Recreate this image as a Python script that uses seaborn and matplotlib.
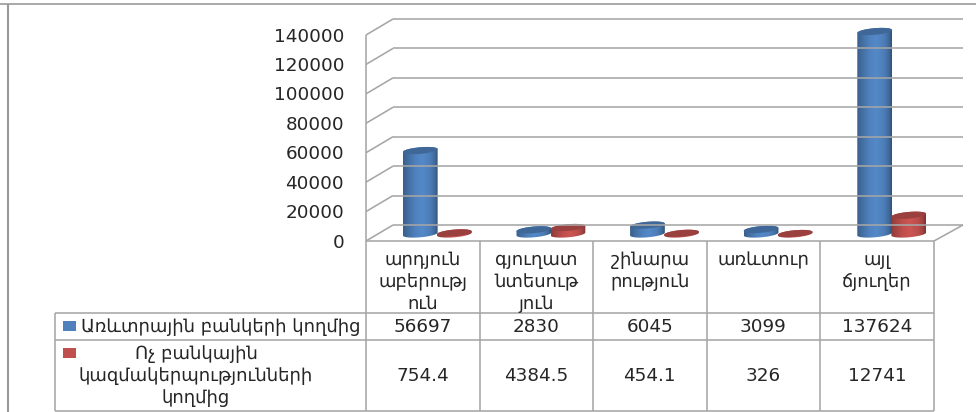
import numpy as np
import pandas as pd
import seaborn as sns
import matplotlib
matplotlib.use("Agg")
import matplotlib.pyplot as plt
from matplotlib.lines import Line2D
from matplotlib.patches import Polygon, Rectangle
from matplotlib.path import Path
from matplotlib.transforms import Affine2D, IdentityTransform

# ---- data ----
categories = ["արդյուն\nաբերությ\nուն", "գյուղատ\nնտեսութ\nյուն", "շինարա\nրություն", "առևտուր", "այլ\nճյուղեր"]
series_names = ["Առևտրային բանկերի կողմից", "Ոչ բանկային\nկազմակերպությունների\nկողմից"]
bank_values = [56697, 2830, 6045, 3099, 137624]
nonbank_values = [754.4, 4384.5, 454.1, 326, 12741]
value_labels = [["56697", "2830", "6045", "3099", "137624"], ["754.4", "4384.5", "454.1", "326", "12741"]]
y_ticks = [0, 20000, 40000, 60000, 80000, 100000, 120000, 140000]
colors = ["#4F81BD", "#C0504D"]

W, H = 976, 412
GRID = "#a6a6a6"
TXT = "#262626"
FS = 13.2
FS_ARM = 13.0

sns.set_theme(style="white", rc={"font.family": ["DejaVu Sans"]})
fig = plt.figure(figsize=(W / 100, H / 100), dpi=100, facecolor="white")
px = Affine2D().scale(1, -1).translate(0, H)  # top-left pixel coordinates

# bars live in an axes placed on the mid-depth plane of the 3D floor
ax_left, ax_right, ax_base, ax_h = 380.5, 948.5, 234.0, 206.0
ax = fig.add_axes([ax_left / W, (H - ax_base) / H, (ax_right - ax_left) / W, ax_h / H])
ax.patch.set_alpha(0)

df = pd.DataFrame({
    "category": categories * 2,
    "value": bank_values + nonbank_values,
    "series": [series_names[0]] * 5 + [series_names[1]] * 5,
})
sns.barplot(data=df, x="category", y="value", hue="series", palette=colors, saturation=1,
            width=0.6, gap=0, legend=False, ax=ax, zorder=5)
xlim, ylim = (-0.5, 4.5), (0, y_ticks[-1])
ax.set_xlim(xlim)
ax.set_ylim(ylim)
ax.axis("off")


def line(xs, ys, lw=1.15, color=GRID, z=1):
    fig.add_artist(Line2D(xs, ys, transform=px, color=color, lw=lw, zorder=z, solid_capstyle="butt"))


# outer picture frame
line([0, W], [4, 4], lw=1.2, color="#999999")
line([8, 8], [4, H], lw=1.5, color="#999999")

# walls and gridlines
front_x, back_x, right_front, right_back = 366, 393, 934, 963
front_zero, back_zero = 241, 225
scale = ax_h / y_ticks[-1]
for v in y_ticks:
    yf, yb = front_zero - v * scale, back_zero - v * scale
    line([front_x, back_x], [yf, yb])
    line([back_x, right_back], [yb, yb])
    fig.text(344 / W, 1 - (yf + 1.5) / H, f"{v}", ha="right", va="center", fontsize=FS, color=TXT)
line([front_x, front_x], [front_zero - y_ticks[-1] * scale, front_zero])
line([front_x, right_front], [front_zero, front_zero])
line([right_front, right_back], [front_zero, back_zero])

# table
col_edges = [366, 479.5, 593, 706.5, 820, 934]
row_edges = [312.5, 339.5, 411]
left_edge = 55
for x in col_edges:
    line([x, x], [front_zero, row_edges[-1]])
line([left_edge, left_edge], [row_edges[0], row_edges[-1]])
for y in row_edges:
    line([left_edge, col_edges[-1]], [y, y])

pitch = 22
centers = [(a + b) / 2 for a, b in zip(col_edges[:-1], col_edges[1:])]
for cx, cat in zip(centers, categories):
    for i, part in enumerate(cat.split("\n")):
        fig.text(cx / W, 1 - (260 + i * pitch) / H, part, ha="center", va="center", fontsize=FS_ARM, color=TXT)
row_mid = [327, 376]
for r, labels in enumerate(value_labels):
    for cx, s in zip(centers, labels):
        fig.text(cx / W, 1 - row_mid[r] / H, s, ha="center", va="center", fontsize=FS, color=TXT)
fig.text(221 / W, 1 - 327 / H, series_names[0], ha="center", va="center", fontsize=FS_ARM, color=TXT)
for i, part in enumerate(series_names[1].split("\n")):
    fig.text(196 / W, 1 - (354 + i * pitch) / H, part, ha="center", va="center", fontsize=FS_ARM, color=TXT)
for y0, c in zip([321, 348], colors):
    fig.add_artist(Rectangle((63, y0 + 9.5), 13, -9.5, transform=px, facecolor=c, edgecolor="none"))


# cylinder look: shade each seaborn bar, keeping its data-driven extent
def ellipse_pts(cx, cy, a, b, t0, t1, theta, n=40):
    t = np.linspace(t0, t1, n)
    x, y = a * np.cos(t), b * np.sin(t)
    c, s = np.cos(theta), np.sin(theta)
    return np.column_stack([cx + x * c - y * s, cy + x * s + y * c])


theta = np.radians(5)
shade_pos = [0, 0.12, 0.35, 0.55, 0.78, 0.92, 1]
shade_val = [0.74, 0.84, 1.0, 1.06, 0.97, 0.82, 0.64]
tt = np.linspace(0, 1, 64)
for k, patch in enumerate(list(ax.patches)):
    (x0, y0), (x1, y1) = ax.transData.transform(patch.get_bbox().get_points())
    base = np.array(matplotlib.colors.to_rgb(patch.get_facecolor()))
    cx, a, b = (x0 + x1) / 2, (x1 - x0) / 2 + 0.4, 3.3
    grad = np.clip(np.outer(np.interp(tt, shade_pos, shade_val), base), 0, 1)[None, :, :]
    outline = np.vstack([ellipse_pts(cx, y0, a, b, np.pi, 2 * np.pi, theta),
                         ellipse_pts(cx, y1, a, b, 0, np.pi, theta)])
    z = 6 + k
    im = ax.imshow(grad, extent=[cx - a, cx + a, y0 - 8, y1 + 8], aspect="auto", origin="lower",
                   transform=IdentityTransform(), zorder=z, interpolation="bilinear")
    im.set_clip_box(fig.bbox)
    im.set_clip_path(Path(outline), IdentityTransform())
    top = Polygon(ellipse_pts(cx, y1, a, b, 0, 2 * np.pi, theta), closed=True, transform=IdentityTransform(),
                  facecolor=base * 0.8, edgecolor="none", zorder=z + 0.5, clip_on=False)
    ax.add_patch(top)
    patch.set_visible(False)
ax.set_xlim(xlim)
ax.set_ylim(ylim)

fig.savefig("out.png", dpi=100, facecolor="white")
